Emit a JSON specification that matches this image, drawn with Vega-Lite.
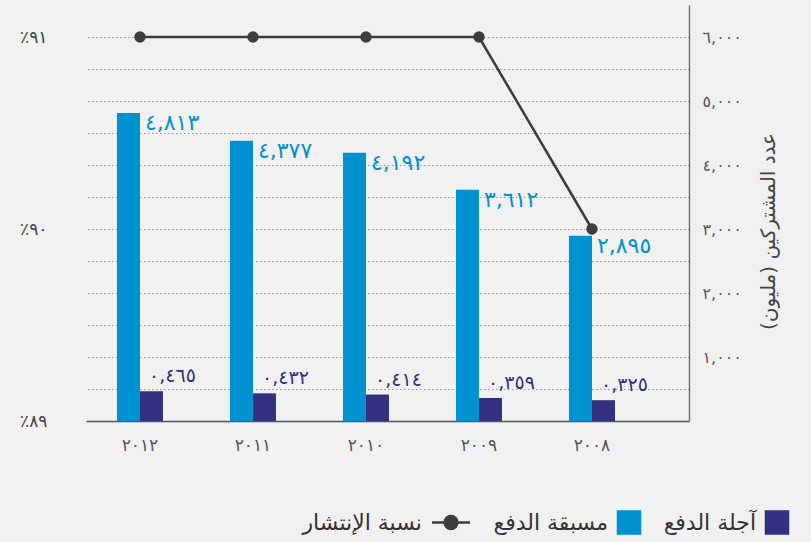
{
  "$schema": "https://vega.github.io/schema/vega-lite/v6.json",
  "autosize": {"type": "none"},
  "width": 603,
  "height": 416,
  "padding": {"left": 86, "top": 5, "right": 122, "bottom": 121},
  "background": "#f1f1f1",
  "config": {
    "view": {"stroke": null},
    "font": "DejaVu Sans",
    "axis": {"labelFont": "DejaVu Sans", "titleFont": "DejaVu Sans"},
    "legend": {"labelFont": "DejaVu Sans"}
  },
  "datasets": {
    "subs": [
      {"year": "٢٠١٢", "type": "مسبقة الدفع", "value": 4813, "label": "٤,٨١٣"},
      {"year": "٢٠١٢", "type": "آجلة الدفع", "value": 465, "label": "٠,٤٦٥"},
      {"year": "٢٠١١", "type": "مسبقة الدفع", "value": 4377, "label": "٤,٣٧٧"},
      {"year": "٢٠١١", "type": "آجلة الدفع", "value": 432, "label": "٠,٤٣٢"},
      {"year": "٢٠١٠", "type": "مسبقة الدفع", "value": 4192, "label": "٤,١٩٢"},
      {"year": "٢٠١٠", "type": "آجلة الدفع", "value": 414, "label": "٠,٤١٤"},
      {"year": "٢٠٠٩", "type": "مسبقة الدفع", "value": 3612, "label": "٣,٦١٢"},
      {"year": "٢٠٠٩", "type": "آجلة الدفع", "value": 359, "label": "٠,٣٥٩"},
      {"year": "٢٠٠٨", "type": "مسبقة الدفع", "value": 2895, "label": "٢,٨٩٥"},
      {"year": "٢٠٠٨", "type": "آجلة الدفع", "value": 325, "label": "٠,٣٢٥"}
    ],
    "pen": [
      {"year": "٢٠١٢", "rate": 91},
      {"year": "٢٠١١", "rate": 91},
      {"year": "٢٠١٠", "rate": 91},
      {"year": "٢٠٠٩", "rate": 91},
      {"year": "٢٠٠٨", "rate": 90}
    ]
  },
  "encoding": {
    "x": {
      "field": "year", "type": "nominal", "sort": null,
      "scale": {"domain": ["٢٠١٢", "٢٠١١", "٢٠١٠", "٢٠٠٩", "٢٠٠٨"], "paddingInner": 0.593, "paddingOuter": 0.4646, "align": 0.295},
      "axis": {"title": null, "labelAngle": 0, "ticks": false, "domainColor": "#555555", "domainWidth": 1.5, "labelFontSize": 17, "labelColor": "#555555", "labelPadding": 16}
    }
  },
  "layer": [
    {
      "data": {"name": "subs"},
      "mark": {"type": "rule", "opacity": 0},
      "encoding": {
        "y": {"field": "value", "type": "quantitative",
          "scale": {"domain": [0, 6500], "nice": false},
          "axis": {
          "orient": "right", "labels": false, "ticks": false, "domain": false, "title": null,
          "grid": true, "values": [500, 1000, 1500, 2000, 2500, 3000, 3500, 4000, 4500, 5000, 5500, 6000],
          "gridColor": "#999999", "gridDash": [1.5, 2.5], "gridWidth": 1.2
        }}
      }
    },
    {
      "data": {"name": "subs"},
      "layer": [
        {
          "mark": {"type": "bar"},
          "encoding": {
            "xOffset": {"field": "type", "type": "nominal", "scale": {"domain": ["مسبقة الدفع", "آجلة الدفع"], "paddingInner": 0, "paddingOuter": 0}},
            "y": {
              "field": "value", "type": "quantitative",
              "scale": {"domain": [0, 6500], "nice": false},
              "axis": {
                "orient": "right", "title": "عدد المشتركين (مليون)", "titleAngle": -90, "titleFontSize": 20, "titleFontWeight": "normal", "titleColor": "#444444",
                "titleX": 79, "titleY": 226, "titleAlign": "center", "titleBaseline": "middle",
                "values": [1000, 2000, 3000, 4000, 5000, 6000],
                "labelExpr": "datum.value == 1000 ? '١,٠٠٠' : datum.value == 2000 ? '٢,٠٠٠' : datum.value == 3000 ? '٣,٠٠٠' : datum.value == 4000 ? '٤,٠٠٠' : datum.value == 5000 ? '٥,٠٠٠' : '٦,٠٠٠'",
                "labelFontSize": 16, "labelColor": "#555555", "labelPadding": 13, "labelAlign": "left",
                "ticks": false, "domainColor": "#777777", "domainWidth": 1.5, "grid": false
              }
            },
            "color": {
              "field": "type", "type": "nominal",
              "scale": {"domain": ["نسبة الإنتشار", "مسبقة الدفع", "آجلة الدفع"], "range": ["#3d3d3d", "#0092d0", "#33317f"]},
              "legend": {
                "title": null, "orient": "none", "legendX": 346, "legendY": 505, "direction": "horizontal",
                "symbolSize": 1444, "labelFontSize": 22, "labelColor": "#333333", "labelAlign": "right", "columnPadding": 18,
                "gridAlign": "none",
                "encode": {
                  "symbols": {"update": {
                    "shape": {"signal": "datum.value === 'نسبة الإنتشار' ? 'M-1,0L1,0M0.34,0A0.34,0.34,0,1,1,-0.34,0A0.34,0.34,0,1,1,0.34,0Z' : 'square'"},
                    "size": {"signal": "datum.value === 'نسبة الإنتشار' ? 1444 : 484"},
                    "x": {"signal": "datum.value === 'نسبة الإنتشار' ? 19 : 11"},
                    "fill": {"scale": "color", "field": "value"},
                    "stroke": {"signal": "datum.value === 'نسبة الإنتشار' ? '#3d3d3d' : 'transparent'"},
                    "strokeWidth": {"value": 2.5},
                    "opacity": {"value": 1}
                  }},
                  "labels": {"update": {"x": {"value": -10}}}
                }
              }
            }
          }
        },
        {
          "transform": [{"filter": "datum.type === 'مسبقة الدفع'"}],
          "mark": {"type": "text", "align": "left", "baseline": "top", "dx": 5, "dy": 0, "fontSize": 22, "color": "#0092d0"},
          "encoding": {
            "y": {"field": "value", "type": "quantitative"},
            "text": {"field": "label"}
          }
        },
        {
          "transform": [{"filter": "datum.type === 'آجلة الدفع'"}],
          "mark": {"type": "text", "align": "left", "baseline": "bottom", "dx": 9, "dy": -5, "fontSize": 19, "color": "#33317f"},
          "encoding": {
            "y": {"field": "value", "type": "quantitative"},
            "text": {"field": "label"}
          }
        }
      ]
    },
    {
      "data": {"name": "pen"},
      "mark": {"type": "line", "strokeWidth": 2.5, "point": {"filled": true, "size": 130, "opacity": 1}},
      "encoding": {
        "y": {
          "field": "rate", "type": "quantitative",
          "scale": {"domain": [89, 91.1666667], "nice": false, "zero": false},
          "axis": {
            "orient": "left", "title": null, "values": [89, 90, 91],
            "labelExpr": "datum.value == 89 ? '٪٨٩' : datum.value == 90 ? '٪٩٠' : '٪٩١'",
            "labelFontSize": 17, "labelColor": "#444444", "labelPadding": 39, "ticks": false, "domain": false,
            "grid": false
          }
        },
        "color": {"datum": "نسبة الإنتشار"}
      }
    }
  ],
  "resolve": {"scale": {"y": "independent"}}
}
